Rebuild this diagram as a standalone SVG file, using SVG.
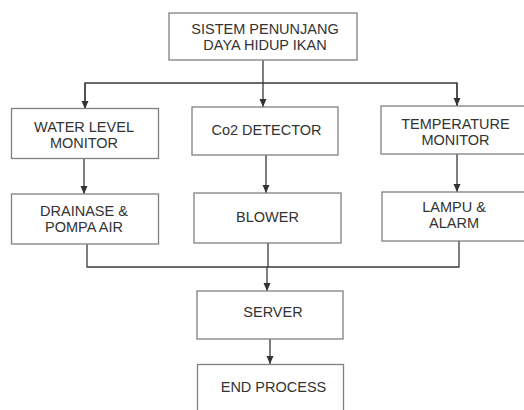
<svg xmlns="http://www.w3.org/2000/svg" width="524" height="410" viewBox="0 0 524 410">
<defs>
<marker id="ah" viewBox="0 0 8 8" refX="8" refY="4" markerWidth="8" markerHeight="8" markerUnits="userSpaceOnUse" orient="auto">
<path d="M0,0.5 L8,4 L0,7.5 Z" fill="#333"/>
</marker>
<style>
.box{fill:#fff;stroke:#808080;stroke-width:1.3}
.t{font-family:"Liberation Sans",Arial,sans-serif;font-size:14.5px;fill:#333;text-anchor:middle}
.c{fill:none;stroke:#3a3a3a;stroke-width:1.3}
.a{marker-end:url(#ah)}
</style>
</defs>
<rect width="524" height="410" fill="#fff"/>
<g id="connectors">
<line class="c a" x1="263" y1="60" x2="263" y2="107"/>
<polyline class="c" points="85,108 85,83 457,83 457,106"/>
<line class="c a" x1="85" y1="83" x2="85" y2="109"/>
<line class="c a" x1="457" y1="83" x2="457" y2="106"/>
<line class="c a" x1="84" y1="158" x2="84" y2="194"/>
<line class="c a" x1="266" y1="155" x2="266" y2="193"/>
<line class="c a" x1="457" y1="154" x2="457" y2="192"/>
<polyline class="c" points="87,244 87,267 459,267 459,241"/>
<line class="c" x1="268" y1="243" x2="268" y2="267"/>
<line class="c a" x1="267" y1="267" x2="267" y2="291"/>
<line class="c a" x1="270" y1="339" x2="270" y2="364"/>
</g>
<g id="sistem">
<rect class="box" x="169" y="13" width="188" height="47"/>
<text class="t" x="265" y="34">SISTEM PENUNJANG</text>
<text class="t" x="265" y="50">DAYA HIDUP IKAN</text>
</g>
<g id="water-level">
<rect class="box" x="11.5" y="108.5" width="147" height="50"/>
<text class="t" x="84" y="132">WATER LEVEL</text>
<text class="t" x="84" y="148">MONITOR</text>
</g>
<g id="co2">
<rect class="box" x="192" y="107" width="146" height="48"/>
<text class="t" x="266.5" y="135">Co2 DETECTOR</text>
</g>
<g id="temperature">
<rect class="box" x="381" y="106" width="146" height="48"/>
<text class="t" x="455.5" y="129">TEMPERATURE</text>
<text class="t" x="455.5" y="145">MONITOR</text>
</g>
<g id="drainase">
<rect class="box" x="11.5" y="194" width="147" height="50"/>
<text class="t" x="84" y="216">DRAINASE &amp;</text>
<text class="t" x="84" y="232">POMPA AIR</text>
</g>
<g id="blower">
<rect class="box" x="194" y="193" width="147" height="50"/>
<text class="t" x="267.5" y="222">BLOWER</text>
</g>
<g id="lampu">
<rect class="box" x="382" y="192" width="145" height="49"/>
<text class="t" x="454" y="212">LAMPU &amp;</text>
<text class="t" x="454" y="228">ALARM</text>
</g>
<g id="server">
<rect class="box" x="197" y="291" width="146" height="48"/>
<text class="t" x="273" y="317">SERVER</text>
</g>
<g id="end">
<rect class="box" x="197.5" y="364.5" width="146" height="60"/>
<text class="t" x="273.5" y="392">END PROCESS</text>
</g>
</svg>
